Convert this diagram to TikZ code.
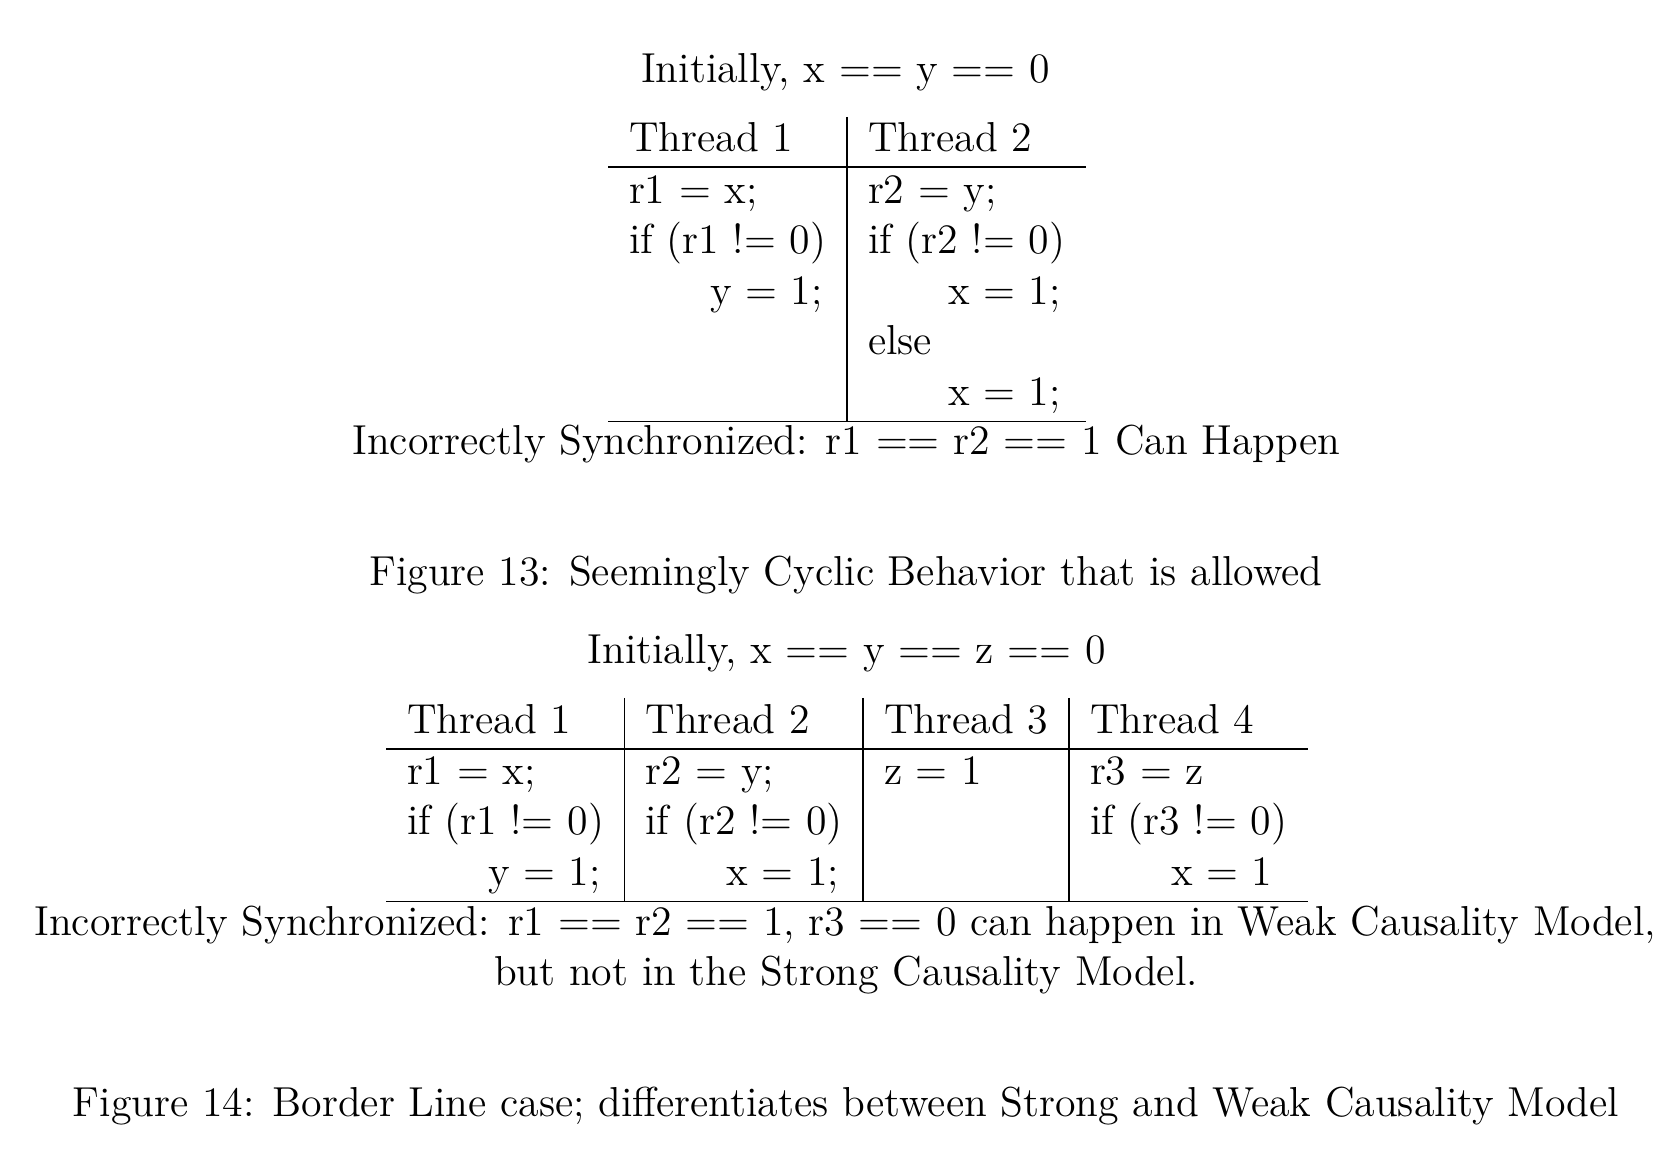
\documentclass[tikz,border=0pt]{standalone}
\begin{document}
\begin{tikzpicture}[x=0.2857pt,y=-0.2857pt,
  txt/.style={inner sep=0pt,outer sep=0pt,font=\fontsize{11.96}{14.5}\selectfont},
  cell/.style={txt,anchor=base west},
  ctr/.style={txt,anchor=base},
  rule/.style={line width=0.45pt,black}]
\useasboundingbox (0,0) rectangle (1680,1150);
% ---------- Figure 13 ----------
\node[ctr] (init1) at (845.5,83) {Initially, x == y == 0};
\coordinate (a1top) at (847,117);
\coordinate (a1bot) at (847,421.5);
\coordinate (a1hl) at (608,167);
\coordinate (a1hr) at (1086,167);
\coordinate (a1bl) at (608,421.5);
\coordinate (a1br) at (1086,421.5);
\draw[rule] (a1top) -- (a1bot);
\draw[rule] (a1hl) -- (a1hr);
\draw[rule] (a1bl) -- (a1br);
\node[cell] (a1h1) at (629,152) {Thread 1};
\node[cell] (a1h2) at (868,152) {Thread 2};
\node[cell] (a1c11) at (629,203.5) {r1 = x;};
\node[cell] (a1c12) at (629,254) {if (r1 != 0)};
\node[cell] (a1c13) at (710,304.5) {y = 1;};
\node[cell] (a1c21) at (868,203.5) {r2 = y;};
\node[cell] (a1c22) at (868,254) {if (r2 != 0)};
\node[cell] (a1c23) at (948,304.5) {x = 1;};
\node[cell] (a1c24) at (868,355) {else};
\node[cell] (a1c25) at (948,405.5) {x = 1;};
\node[ctr] (cap1a) at (846.5,455) {Incorrectly Synchronized: r1 == r2 == 1 Can Happen};
\node[ctr] (fig13) at (846,586) {Figure 13: Seemingly Cyclic Behavior that is allowed};
% ---------- Figure 14 ----------
\node[ctr] (init2) at (846.5,664) {Initially, x == y == z == 0};
\coordinate (b1top) at (624.6,698);
\coordinate (b1bot) at (624.6,901.5);
\coordinate (b2top) at (863,698);
\coordinate (b2bot) at (863,901.5);
\coordinate (b3top) at (1069,698);
\coordinate (b3bot) at (1069,901.5);
\coordinate (bhl) at (386,748.8);
\coordinate (bhr) at (1307.5,748.8);
\coordinate (bbl) at (386,901.5);
\coordinate (bbr) at (1307.5,901.5);
\draw[rule] (b1top) -- (b1bot);
\draw[rule] (b2top) -- (b2bot);
\draw[rule] (b3top) -- (b3bot);
\draw[rule] (bhl) -- (bhr);
\draw[rule] (bbl) -- (bbr);
\node[cell] (b1h) at (407,733.3) {Thread 1};
\node[cell] (b2h) at (645.6,733.3) {Thread 2};
\node[cell] (b3h) at (884,733.3) {Thread 3};
\node[cell] (b4h) at (1090,733.3) {Thread 4};
\node[cell] (b11) at (407,784.3) {r1 = x;};
\node[cell] (b12) at (407,834.8) {if (r1 != 0)};
\node[cell] (b13) at (488,885.3) {y = 1;};
\node[cell] (b21) at (645.6,784.3) {r2 = y;};
\node[cell] (b22) at (645.6,834.8) {if (r2 != 0)};
\node[cell] (b23) at (726.5,885.3) {x = 1;};
\node[cell] (b31) at (884,784.3) {z = 1};
\node[cell] (b41) at (1090,784.3) {r3 = z};
\node[cell] (b42) at (1090,834.8) {if (r3 != 0)};
\node[cell] (b43) at (1171,885.3) {x = 1};
\node[ctr] (cap2a) at (845.2,935) {Incorrectly Synchronized: r1 == r2 == 1, r3 == 0 can happen in Weak Causality Model,};
\node[ctr] (cap2b) at (846,985.5) {but not in the Strong Causality Model.};
\node[ctr] (fig14) at (846,1116.5) {Figure 14: Border Line case; differentiates between Strong and Weak Causality Model};
\end{tikzpicture}
\end{document}
